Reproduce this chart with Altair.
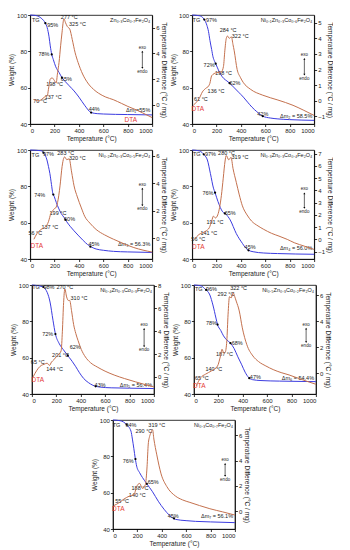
import altair as alt
import pandas as pd

# ---------------- Panel 1: Zn0.3Co0.7Fe2O4 ----------------
title1 = "Zn₀.₃Co₀.₇Fe₂O₄"
tg1_t = [0, 40, 82, 110, 125, 140, 155, 165, 177, 190, 210, 237, 261, 290, 321, 360, 400, 450, 500, 550, 600, 700, 800, 1000]
tg1_w = [100, 99.8, 98.7, 97, 95.5, 93, 88, 83, 78.3, 75.5, 71.5, 68.4, 65.5, 63.2, 61, 58.2, 54.8, 50, 46.3, 45.7, 45.5, 45.3, 45.2, 45]
dta1_t = [30, 50, 70, 105, 125, 141, 150, 165, 180, 198, 213, 225, 237, 250, 261, 277, 290, 305, 325, 345, 369, 393, 430, 465, 520, 561, 620, 681, 750, 801, 870, 921, 1000]
dta1_v = [0.4, 0.35, 0.3, 0.5, 0.65, 0.7, 1.2, 2.0, 2.1, 1.9, 1.7, 2.5, 3.3, 4.6, 5.6, 6.7, 6.4, 6.1, 5.9, 5.1, 4.05, 3.3, 2.4, 1.8, 1.2, 0.9, 0.6, 0.4, 0.1, -0.13, -0.4, -0.63, -1.0]
dta1_domain = [-1.5, 7]
dta1_ticks = [0, 2, 4, 6]
dot1_t = [125, 177, 261, 500]
dot1_w = [95.5, 78.3, 65.5, 46.3]
lab1_text = ["TG", "95%", "78%", "65%", "44%", "277 °C", "325 °C", "198 °C", "137 °C", "70 °C"]
lab1_t = [46, 185, 113, 297, 525, 321, 388, 201, 189, 82]
lab1_w = [97.3, 94.6, 78.3, 65, 48, 98.7, 95, 62, 54.8, 52.4]
dtalab1 = [825, 42.2]
dm1 = ["Δm₁=55%", 47.5]
exo1 = [82, 68.7]

# ---------------- Panel 2 ----------------
title2 = "Ni₀.₁Zn₀.₃Co₀.₆Fe₂O₄"
tg2_t = [0, 59, 97, 121, 134, 146, 160, 171, 184, 196, 215, 233, 260, 285, 307, 340, 381, 420, 455, 490, 530, 579, 640, 703, 800, 1000]
tg2_w = [100, 99.6, 97.8, 94.3, 91, 86, 81, 77, 74.5, 72.8, 69.8, 67.4, 65, 63.7, 62.5, 60.3, 57.5, 54.8, 52, 49.3, 46.8, 44.3, 43.3, 42.8, 42.4, 42]
dta2_t = [10, 35, 59, 84, 110, 136, 145, 160, 200, 240, 257, 268, 280, 290, 305, 322, 335, 345, 369, 395, 418, 480, 579, 703, 827, 910, 1000]
dta2_v = [-0.3, -0.1, 0.15, 0.56, 0.78, 0.95, 1.1, 1.6, 1.8, 1.85, 2.2, 3.2, 4.0, 4.15, 4.0, 4.1, 3.6, 3.2, 2.0, 1.5, 1.18, 0.72, 0.35, 0.04, -0.3, -0.6, -0.95]
dta2_domain = [-1.5, 5.5]
dta2_ticks = [-1, 0, 1, 2, 3, 4, 5]
dot2_t = [100, 193, 307, 579]
dot2_w = [97.5, 73.2, 62.5, 44.3]
lab2_text = ["TG", "97%", "72%", "62%", "42%", "284 °C", "322 °C", "198 °C", "136 °C", "61 °C"]
lab2_t = [35, 158, 139, 351, 579, 295, 394, 257, 196, 72]
lab2_w = [97.3, 97.3, 72.4, 62.4, 45.5, 91.6, 88.4, 68.3, 58.4, 54]
dtalab2 = [47, 48.2]
dm2 = ["Δm₂ = 58.5%", 44.2]
exo2 = [78, 65]

# ---------------- Panel 3 ----------------
title3 = "Ni₀.₂Zn₀.₃Co₀.₅Fe₂O₄"
tg3_t = [0, 90, 114, 138, 150, 162, 175, 185, 197, 215, 233, 255, 280, 300, 328, 360, 399, 435, 470, 505, 541, 600, 684, 800, 1000]
tg3_w = [100, 99.6, 98.2, 94.5, 91, 87, 81, 76.4, 74.5, 71, 68, 65, 62.7, 60.5, 58, 55.5, 52.7, 50.2, 48, 46.5, 45.5, 44.8, 44.2, 43.9, 43.6]
dta3_t = [31, 55, 90, 126, 137, 150, 170, 185, 199, 209, 225, 245, 262, 275, 283, 300, 320, 340, 360, 387, 420, 447, 490, 541, 610, 684, 770, 850, 1000]
dta3_v = [-0.07, 0.33, 0.64, 0.83, 0.95, 1.2, 1.8, 2.0, 2.15, 2.2, 2.6, 3.8, 5.2, 5.8, 5.9, 5.7, 5.76, 4.8, 3.8, 3.0, 2.2, 1.6, 1.1, 0.64, 0.25, -0.07, -0.4, -0.67, -1.0]
dta3_domain = [-1.5, 6.4]
dta3_ticks = [0, 2, 4, 6]
dot3_t = [109, 190, 290, 494]
dot3_w = [98.5, 75.5, 61.6, 46.8]
lab3_text = ["TG", "97%", "74%", "60%", "45%", "283 °C", "320 °C", "199 °C", "137 °C", "56 °C"]
lab3_t = [43, 150, 78, 323, 523, 292, 387, 228, 162, 43]
lab3_w = [97.3, 97.8, 75, 61.8, 48, 98.5, 95.5, 65.5, 57.8, 54.2]
dtalab3 = [55, 47.3]
dm3 = ["Δm₃ = 56.3%", 48.2]
exo3 = [81, 67.3]

# ---------------- Panel 4 ----------------
title4 = "Ni₀.₃Zn₀.₃Co₀.₄Fe₂O₄"
tg4_t = [0, 60, 100, 125, 150, 175, 188, 212, 250, 275, 312, 362, 412, 440, 462, 500, 587, 700, 1000]
tg4_w = [100, 99.5, 97.2, 94.5, 87, 79, 76.5, 71.6, 66, 64.8, 61.5, 54, 48.6, 46, 44.8, 44, 43.3, 43.0, 42.6]
dta4_t = [17, 56, 112, 141, 160, 175, 191, 210, 225, 240, 255, 270, 280, 300, 319, 335, 362, 385, 412, 450, 487, 540, 587, 650, 712, 780, 837, 920, 1000]
dta4_v = [0.0, 0.4, 0.68, 0.96, 1.5, 1.9, 1.75, 2.0, 2.6, 3.6, 5.0, 6.4, 6.85, 6.5, 6.7, 5.8, 4.66, 3.7, 2.74, 2.0, 1.5, 1.1, 0.82, 0.5, 0.27, 0.0, -0.27, -0.55, -0.82]
dta4_domain = [-1.6, 7.3]
dta4_ticks = [-1, 0, 1, 2, 3, 4, 5, 6, 7]
dot4_t = [95, 188, 268, 462]
dot4_w = [97.6, 76.5, 65.1, 44.8]
lab4_text = ["TG", "97%", "76%", "65%", "45%", "280 °C", "319 °C", "191 °C", "141 °C", "56 °C"]
lab4_t = [38, 150, 130, 312, 475, 282, 392, 187, 137, 50]
lab4_w = [97.8, 97.8, 76.5, 65.1, 46.5, 98.5, 96, 60.6, 54.1, 51]
dtalab4 = [50, 46.4]
dm4 = ["Δm₄ = 56.0%", 46]
exo4 = [78.3, 66]

# ---------------- Panel 5 ----------------
title5 = "Ni₀.₄Zn₀.₃Co₀.₃Fe₂O₄"
tg5_t = [0, 89, 110, 125, 149, 173, 193, 222, 258, 282, 330, 360, 390, 425, 463, 500, 559, 650, 800, 1000]
tg5_w = [100, 99, 97.8, 96, 90.6, 80.6, 73, 68, 64.4, 62.2, 58, 55, 51.7, 48.5, 46.3, 44.8, 43.8, 43.4, 43.2, 43]
dta5_t = [10, 41, 65, 77, 100, 125, 144, 161, 180, 198, 222, 240, 250, 260, 270, 285, 298, 310, 325, 342, 360, 378, 405, 439, 480, 535, 600, 680, 760, 848, 920, 1000]
dta5_v = [0, 0.58, 0.9, 1.0, 1.1, 1.2, 1.0, 1.3, 1.5, 1.74, 2.0, 2.3, 4.0, 6.5, 7.7, 7.0, 6.7, 6.7, 5.8, 4.6, 3.8, 3.2, 2.4, 1.74, 1.25, 0.87, 0.5, 0.14, -0.15, -0.43, -0.65, -0.87]
dta5_domain = [-1.5, 8.05]
dta5_ticks = [0, 2, 4, 6, 8]
dot5_t = [94, 193, 294, 523]
dot5_w = [98.9, 73, 61.2, 44.2]
lab5_text = ["TG", "98%", "72%", "62%", "43%", "270 °C", "310 °C", "201 °C", "144 °C", "65 °C"]
lab5_t = [34, 140, 130, 355, 559, 270, 386, 235, 186, 48]
lab5_w = [98.7, 99.1, 73, 65.8, 44.8, 99.1, 93, 61.6, 53.5, 57.5]
dtalab5 = [48, 47.7]
dm5 = ["Δm₅ = 56.4%", 44.8]
exo5 = [78, 64]

# ---------------- Panel 6 ----------------
title6 = "Ni₀.₅Zn₀.₃Co₀.₂Fe₂O₄"
tg6_t = [0, 60, 94, 131, 156, 181, 194, 220, 243, 270, 300, 330, 360, 390, 420, 450, 480, 550, 700, 1000]
tg6_w = [100, 99.5, 97.6, 94.5, 89, 81.8, 78.2, 75, 72, 69.7, 68, 65, 60.5, 56.4, 52, 49, 47.9, 47.4, 47.1, 46.8]
dta6_t = [20, 57, 94, 144, 194, 218, 231, 245, 256, 270, 280, 292, 305, 322, 335, 347, 372, 397, 434, 484, 530, 590, 650, 715, 780, 839, 920, 1000]
dta6_v = [-0.97, -0.33, -0.08, 0.18, 0.56, 1.33, 1.85, 1.55, 1.6, 2.5, 4.5, 5.9, 5.8, 6.2, 5.9, 5.56, 4.8, 3.5, 2.2, 1.33, 0.9, 0.56, 0.28, 0.05, -0.13, -0.33, -0.6, -0.85]
dta6_domain = [-1.6, 6.8]
dta6_ticks = [0, 2, 4, 6]
dot6_t = [100, 194, 300, 454]
dot6_w = [97.3, 78.2, 68, 48.7]
lab6_text = ["TG", "96%", "78%", "68%", "47%", "292 °C", "322 °C", "187 °C", "140 °C", "65 °C"]
lab6_t = [40, 144, 144, 355, 504, 263, 367, 251, 164, 65]
lab6_w = [97.8, 97.8, 79, 68.2, 49.5, 95, 98.2, 61.8, 53.6, 48.7]
dtalab6 = [45, 44.5]
dm6 = ["Δm₆ = 54.4%", 49]
exo6 = [78.2, 66.4]

# ---------------- Panel 7 ----------------
title7 = "Ni₀.₃Co₀.₇Fe₂O₄"
tg7_t = [0, 60, 113, 148, 160, 172, 183, 195, 219, 242, 278, 325, 372, 419, 466, 513, 600, 678, 800, 1000]
tg7_w = [100, 99.6, 97.4, 93.9, 89.5, 84.2, 79, 74.6, 71, 68.4, 64.9, 60.5, 55.3, 50.9, 47.4, 45.3, 44.6, 44.2, 43.9, 43.5]
dta7_t = [7, 30, 54, 89, 136, 172, 195, 219, 242, 266, 280, 290, 301, 312, 325, 336, 360, 395, 442, 513, 570, 631, 710, 795, 900, 1000]
dta7_v = [0.45, 0.55, 0.7, 0.95, 1.2, 1.3, 1.95, 2.2, 1.8, 2.1, 3.5, 5.3, 5.9, 6.2, 6.45, 5.7, 4.45, 2.95, 1.95, 1.2, 0.9, 0.7, 0.45, 0.2, -0.05, -0.3]
dta7_domain = [-1.4, 7.2]
dta7_ticks = [0, 2, 4, 6]
dot7_t = [113, 185, 278, 501]
dot7_w = [97.4, 78.5, 64.9, 45.8]
lab7_text = ["TG", "94%", "76%", "65%", "45%", "290 °C", "319 °C", "188 °C", "140 °C", "55 °C"]
lab7_t = [30, 148, 125, 330, 494, 254, 360, 222, 200, 75]
lab7_w = [97.4, 97.4, 77.5, 65.8, 47.4, 94, 97.4, 62.3, 58.6, 55.3]
dtalab7 = [45, 51.2]
dm7 = ["Δm₇ = 56.1%", 47.4]
exo7 = [78, 67]

FONT = "Liberation Sans"
TG_COLOR = "#3c3ce0"
DTA_COLOR = "#c4714e"
RED = "#e53935"
W, H = 122, 109


def panel(title, tg_t, tg_w, dta_t, dta_v, dom, ticks, dot_t, dot_w,
          lab_text, lab_t, lab_w, dtalab, dm, exo):
    x = alt.X("T:Q", scale=alt.Scale(domain=[0, 1000], nice=False),
              axis=alt.Axis(values=[0, 200, 400, 600, 800, 1000], format="d",
                            title="Temperature (°C)"))
    y = alt.Y("W:Q", scale=alt.Scale(domain=[40, 100], nice=False),
              axis=alt.Axis(values=[40, 60, 80, 100], title="Weight (%)",
                            orient="left"))
    tg_df = pd.DataFrame({"T": tg_t, "W": tg_w})
    dot_df = pd.DataFrame({"T": dot_t, "W": dot_w})
    lab_df = pd.DataFrame({"T": lab_t, "W": lab_w, "txt": lab_text})
    red_df = pd.DataFrame({"T": [dtalab[0]], "W": [dtalab[1]], "txt": ["DTA"]})
    right_df = pd.DataFrame({"T": [985, 985], "W": [97.3, dm[1]],
                             "txt": [title, dm[0]]})
    ee_df = pd.DataFrame({"T": [920, 920], "W": [exo[0], exo[1]],
                          "txt": ["exo", "endo"]})
    arrow_df = pd.DataFrame({"T": [920], "W": [exo[0] - 2.2],
                             "W2": [exo[1] + 2.2]})
    up_df = pd.DataFrame({"T": [920], "W": [exo[0] - 2.2]})
    dn_df = pd.DataFrame({"T": [920], "W": [exo[1] + 2.2]})

    tg_line = alt.Chart(tg_df).mark_line(color=TG_COLOR, strokeWidth=1,
                                         interpolate="monotone").encode(x=x, y=y)
    dots = alt.Chart(dot_df).mark_point(filled=True, color="black", size=5,
                                        opacity=1).encode(x=x, y=y)
    labs = alt.Chart(lab_df).mark_text(font=FONT, fontSize=5.5, color="#222",
                                       align="center", baseline="middle").encode(
        x=x, y=y, text="txt:N")
    reds = alt.Chart(red_df).mark_text(font=FONT, fontSize=6.5, color=RED,
                                       align="center", baseline="middle").encode(
        x=x, y=y, text="txt:N")
    rights = alt.Chart(right_df).mark_text(font=FONT, fontSize=5.5, color="#222",
                                           align="right", baseline="middle").encode(
        x=x, y=y, text="txt:N")
    ee = alt.Chart(ee_df).mark_text(font=FONT, fontSize=4.5, color="#222",
                                    align="center", baseline="middle").encode(
        x=x, y=y, text="txt:N")
    arrow = alt.Chart(arrow_df).mark_rule(color="black", strokeWidth=0.6).encode(
        x=x, y=y, y2="W2:Q")
    up = alt.Chart(up_df).mark_point(shape="triangle-up", filled=True,
                                     color="black", size=4, opacity=1).encode(x=x, y=y)
    dn = alt.Chart(dn_df).mark_point(shape="triangle-down", filled=True,
                                     color="black", size=4, opacity=1).encode(x=x, y=y)
    left_layer = alt.layer(tg_line, dots, labs, reds, rights, ee, arrow, up, dn)

    dta_df = pd.DataFrame({"T": dta_t, "V": dta_v})
    dta_line = alt.Chart(dta_df).mark_line(color=DTA_COLOR, strokeWidth=1,
                                           interpolate="monotone").encode(
        x=x,
        y=alt.Y("V:Q", scale=alt.Scale(domain=dom, nice=False, zero=False),
                axis=alt.Axis(values=ticks, orient="right",
                              title="Temperature Difference (°C / mg)")))
    return alt.layer(left_layer, dta_line).resolve_scale(y="independent").properties(
        width=W, height=H)


p1 = panel(title1, tg1_t, tg1_w, dta1_t, dta1_v, dta1_domain, dta1_ticks, dot1_t, dot1_w,
           lab1_text, lab1_t, lab1_w, dtalab1, dm1, exo1)
p2 = panel(title2, tg2_t, tg2_w, dta2_t, dta2_v, dta2_domain, dta2_ticks, dot2_t, dot2_w,
           lab2_text, lab2_t, lab2_w, dtalab2, dm2, exo2)
p3 = panel(title3, tg3_t, tg3_w, dta3_t, dta3_v, dta3_domain, dta3_ticks, dot3_t, dot3_w,
           lab3_text, lab3_t, lab3_w, dtalab3, dm3, exo3)
p4 = panel(title4, tg4_t, tg4_w, dta4_t, dta4_v, dta4_domain, dta4_ticks, dot4_t, dot4_w,
           lab4_text, lab4_t, lab4_w, dtalab4, dm4, exo4)
p5 = panel(title5, tg5_t, tg5_w, dta5_t, dta5_v, dta5_domain, dta5_ticks, dot5_t, dot5_w,
           lab5_text, lab5_t, lab5_w, dtalab5, dm5, exo5)
p6 = panel(title6, tg6_t, tg6_w, dta6_t, dta6_v, dta6_domain, dta6_ticks, dot6_t, dot6_w,
           lab6_text, lab6_t, lab6_w, dtalab6, dm6, exo6)
p7 = panel(title7, tg7_t, tg7_w, dta7_t, dta7_v, dta7_domain, dta7_ticks, dot7_t, dot7_w,
           lab7_text, lab7_t, lab7_w, dtalab7, dm7, exo7)

row1 = alt.hconcat(p1, p2, spacing=2)
row2 = alt.hconcat(p3, p4, spacing=2)
row3 = alt.hconcat(p5, p6, spacing=2)

chart = alt.vconcat(row1, row2, row3, p7, spacing=3, center=True).properties(
    padding={"left": 0, "top": 3, "right": 0, "bottom": 0},
    background="white",
).configure_view(stroke="black", strokeWidth=0.8).configure_axis(
    labelFont=FONT, titleFont=FONT, labelFontSize=6, titleFontSize=6.5,
    titleFontWeight="normal", labelColor="#222", titleColor="#222",
    tickColor="black", domainColor="black", tickSize=2.5, labelPadding=1,
    titlePadding=2, grid=False, domainWidth=0.8, tickWidth=0.8
)

chart.save("out.html", embed_options={"renderer": "svg", "actions": False})
